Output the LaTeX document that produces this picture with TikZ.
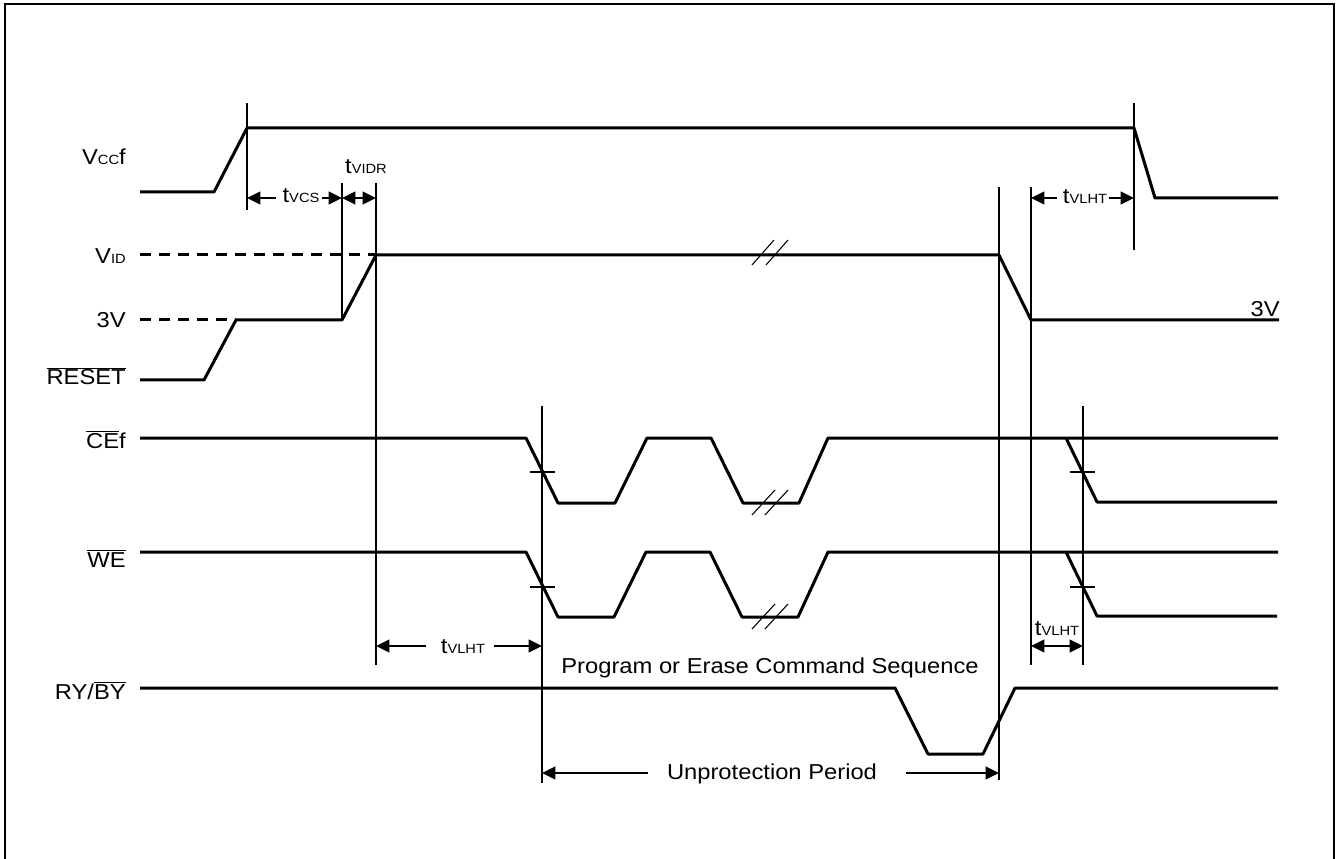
\documentclass[tikz,border=0pt]{standalone}
\usepackage{fontspec}
\setmainfont{Liberation Sans}[FakeStretch=1.1]
\usetikzlibrary{arrows.meta}
\newcommand\sm[1]{{\fontsize{10}{11}\selectfont #1}}
\newcommand\ovl[1]{$\overline{\hbox{#1}}$}
\begin{document}
\begin{tikzpicture}[x=0.75pt,y=-0.75pt,
 sig/.style={line width=2.25pt, line join=round},
 dsig/.style={sig, dash pattern=on 8.25pt off 6pt},
 mk/.style={line width=1.5pt},
 tk/.style={line width=1.5pt},
 sl/.style={line width=0.8pt},
 arr/.style={line width=1.5pt, -{Triangle[length=10pt,width=9.5pt]}},
 darr/.style={line width=1.5pt, {Triangle[length=10pt,width=9.5pt]}-{Triangle[length=10pt,width=9.5pt]}},
 lab/.style={inner sep=0pt, font=\fontsize{16.2}{19}\selectfont},
 frame/.style={line width=1.7pt}]
\useasboundingbox (0,0) rectangle (1336,859);
% frame
\draw[frame] (5,870) -- (5,4) -- (1334,4) -- (1334,870);

% signal labels
\node[lab, anchor=base east] (lvcc) at (126,165) {V\sm{CC}f};
\node[lab, anchor=base east] (lvid) at (126,264) {V\sm{ID}};
\node[lab, anchor=base east] (l3v) at (126,328) {3V};
\node[lab, anchor=base east] (lrst) at (126,385) {\ovl{RESET}};
\node[lab, anchor=base east] (lce) at (126,448) {\ovl{CE}f};
\node[lab, anchor=base east] (lwe) at (126,567) {\ovl{WE}};
\node[lab, anchor=base east] (lry) at (126,699) {RY/\ovl{BY}};
\node[lab, anchor=base east] (r3v) at (1280,317) {3V};

% marker coordinates
\coordinate (m1t) at (247,103); \coordinate (m1b) at (247,210);
\coordinate (m2t) at (342,183); \coordinate (m2b) at (342,320);
\coordinate (m3t) at (376,183); \coordinate (m3b) at (376,665);
\coordinate (m4t) at (999,187); \coordinate (m4b) at (999,780);
\coordinate (m5t) at (1031,187); \coordinate (m5b) at (1031,665);
\coordinate (m6t) at (1134,103); \coordinate (m6b) at (1134,250);
\coordinate (m7t) at (542,406); \coordinate (m7b) at (542,783);
\coordinate (m8t) at (1083,406); \coordinate (m8b) at (1083,665);
\foreach \i in {1,...,8} {\draw[mk] (m\i t) -- (m\i b);}

% Vccf
\draw[sig] (140,192) -- (214,192) -- (247,128) -- (1134,128) -- (1155,198) -- (1278,198);
% VID / 3V
\draw[dsig] (140,255) -- (376,255);
\draw[sig] (376,255) -- (999,255) -- (1031,320) -- (1279,320);
\draw[sl] (752,265) -- (774,240);
\draw[sl] (766,265) -- (788,240);
\draw[dsig] (140,320) -- (236,320);
% RESET
\draw[sig] (140,380) -- (204,380) -- (236,320) -- (342,320) -- (376,255);

% CEf
\draw[sig] (140,438) -- (526,438) -- (558,503) -- (615,503) -- (647,438) -- (711,438) -- (743,503) -- (799,503) -- (828,438) -- (1278,438);
\draw[sig] (1066,438) -- (1097,502) -- (1277,502);
\draw[tk] (530,472) -- (555,472);
\draw[tk] (1070,472) -- (1095,472);
\draw[sl] (752,515) -- (775,490);
\draw[sl] (765,515) -- (788,490);
% WE
\draw[sig] (140,552) -- (526,552) -- (558,617) -- (614,617) -- (646,552) -- (710,552) -- (742,617) -- (798,617) -- (828,552) -- (1278,552);
\draw[sig] (1066,552) -- (1097,616) -- (1277,616);
\draw[tk] (530,587) -- (555,587);
\draw[tk] (1070,587) -- (1095,587);
\draw[sl] (752,629) -- (775,604);
\draw[sl] (765,629) -- (788,604);
% RY/BY
\draw[sig] (140,688) -- (895,688) -- (928,754) -- (983,754) -- (1015,688) -- (1278,688);

% timing annotations
\node[lab, anchor=base] (tvcs) at (301,203) {t\sm{VCS}};
\draw[arr] (276,198) -- (m1t |- 0,198);
\draw[arr] (322,198) -- (m2t |- 0,198);
\node[lab, anchor=base] (tvidr) at (366,174) {t\sm{VIDR}};
\draw[darr] (m2t |- 0,198) -- (m3t |- 0,198);
\node[lab, anchor=base] (tvlht1) at (1085,204) {t\sm{VLHT}};
\draw[arr] (1057,198) -- (m5t |- 0,198);
\draw[arr] (1109,198) -- (m6t |- 0,198);
\node[lab, anchor=base] (tvlht2) at (463,653) {t\sm{VLHT}};
\draw[arr] (426,646) -- (m3t |- 0,646);
\draw[arr] (494,646) -- (m7t |- 0,646);
\node[lab, anchor=base] (tvlht3) at (1057,635) {t\sm{VLHT}};
\draw[darr] (m5t |- 0,646) -- (m8t |- 0,646);
\node[lab, anchor=base] (prog) at (770,673) {Program or Erase Command Sequence};
\node[lab, anchor=base] (unp) at (772,779) {Unprotection Period};
\draw[arr] (648,773) -- (m7t |- 0,773);
\draw[arr] (906,773) -- (m4t |- 0,773);
\end{tikzpicture}
\end{document}
